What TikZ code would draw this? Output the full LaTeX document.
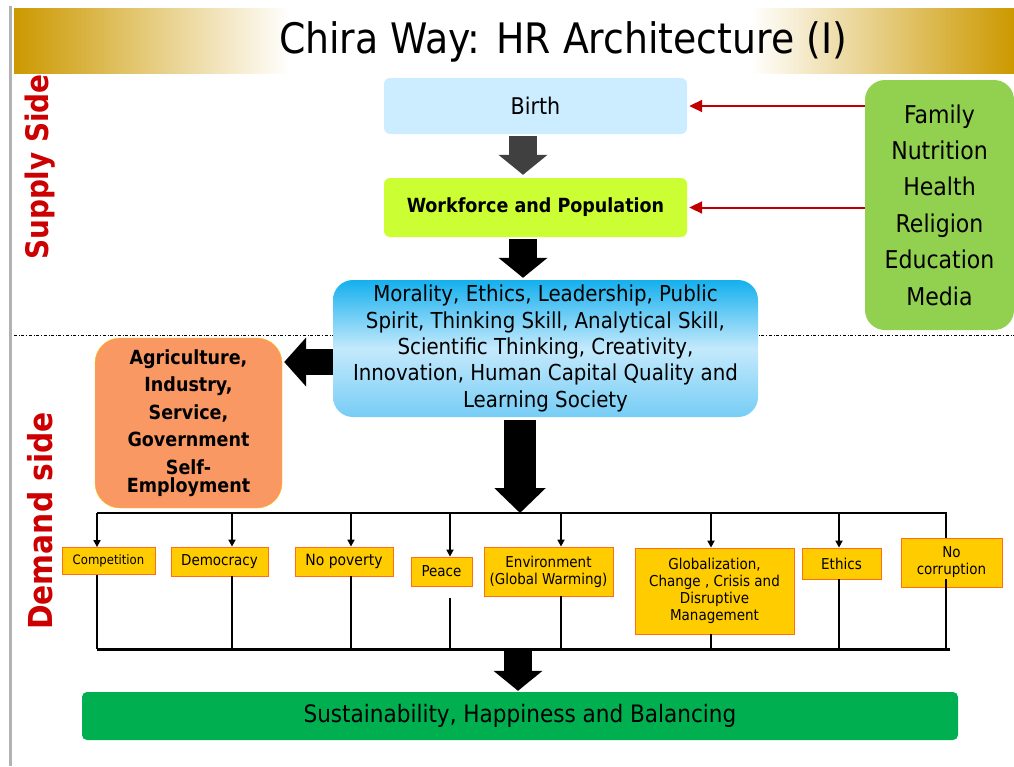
\documentclass[tikz,border=0pt]{standalone}
\usepackage{fontspec}
\setmainfont{DejaVu Sans Condensed}
\usepackage{xcolor}
\usetikzlibrary{positioning,arrows.meta}

\definecolor{titlegold}{RGB}{204,153,0}
\definecolor{sidered}{RGB}{204,0,0}
\definecolor{feedred}{RGB}{192,0,0}
\definecolor{birthblue}{RGB}{204,236,255}
\definecolor{limegreen}{RGB}{204,255,51}
\definecolor{skytop}{RGB}{20,176,238}
\definecolor{skymid}{RGB}{196,233,252}
\definecolor{skybot}{RGB}{118,205,245}
\definecolor{sectorfill}{RGB}{250,152,100}
\definecolor{sectorline}{RGB}{255,192,0}
\definecolor{familygreen}{RGB}{146,208,80}
\definecolor{itemfill}{RGB}{255,204,0}
\definecolor{itemline}{RGB}{255,110,20}
\definecolor{sustgreen}{RGB}{0,176,80}
\definecolor{greyarrow}{RGB}{64,64,64}

\newcommand{\fsz}[1]{\fontsize{#1}{1.2\dimexpr#1pt\relax}\selectfont}

\begin{document}
\begin{tikzpicture}[x=1pt, y=-1pt,
    bigarrow/.style={line width=28pt, -{Triangle[length=20pt,width=48pt]}},
    feedarrow/.style={feedred, line width=2pt, -{Triangle[length=13pt,width=12pt]}},
    tap/.style={line width=1.6pt, -{Triangle[length=7pt,width=7pt]}},
    drop/.style={line width=1.8pt},
    item/.style={draw=itemline, fill=itemfill, line width=0.8pt, inner sep=0pt, align=center}]
    \useasboundingbox (0,0) rectangle (1014,766);

    % title band
    \fill[left color=titlegold, right color=white] (14,8) rectangle (290,73);
    \fill[left color=white, right color=titlegold] (750,8) rectangle (1014,73);
    \draw[gray!60, line width=3pt] (10,6) -- (10,766);
    \node[font=\fsz{42}] (title) at (563,42) {Chira Way: HR Architecture (I)};

    % side labels
    \node[rotate=90, text=sidered, font=\bfseries\fsz{31}] (supply) at (40,167) {Supply Side};
    \node[rotate=90, text=sidered, font=\bfseries\fsz{33}] (demand) at (40,521) {Demand side};
    \draw[dash dot, line width=0.8pt] (14,335) -- (1014,335);

    % supply chain
    \node[fill=birthblue, rounded corners=6pt, minimum width=303pt, minimum height=56pt, font=\fsz{23}] (birth) at (535.5,106) {Birth};
    \node[fill=limegreen, rounded corners=6pt, minimum width=303pt, minimum height=59pt, font=\bfseries\fsz{19.5}] (workforce) at (535.5,207.5) {Workforce and Population};
    \node[top color=skytop, bottom color=skybot, middle color=skymid, rounded corners=20pt, minimum width=425pt, minimum height=137pt, align=center, inner sep=0pt, font=\fsz{22}] (morality) at (545.5,348.5) {Morality, Ethics, Leadership, Public\\[0pt]
        Spirit, Thinking Skill, Analytical Skill,\\[0pt]
        Scientific Thinking, Creativity,\\[0pt]
        Innovation, Human Capital Quality and\\[0pt]
        Learning Society};
    \node[fill=familygreen, rounded corners=20pt, minimum width=149pt, minimum height=250pt, align=center, font=\fsz{24.5}] (family) at (939.5,205) {Family\\[7pt]Nutrition\\[7pt]Health\\[7pt]Religion\\[7pt]Education\\[7pt]Media};
    \node[draw=sectorline, fill=sectorfill, rounded corners=25pt, minimum width=187pt, minimum height=170pt, align=center, inner sep=0pt, font=\bfseries\fsz{19.5}] (sectors) at (188.5,423) {Agriculture,\\[4pt]Industry,\\[4pt]Service,\\[4pt]Government\\[4pt]Self-\\[-5.5pt]Employment};

    % arrows of the supply chain
    \coordinate (axis) at (523,0);
    \draw[bigarrow, greyarrow] ([yshift=-2pt]birth.south -| axis) -- ([yshift=3pt]workforce.north -| axis);
    \draw[bigarrow, black] ([yshift=-2pt]workforce.south -| axis) -- ([yshift=2pt]morality.north -| axis);
    \draw[bigarrow, black, line width=26pt, -{Triangle[length=22pt,width=48pt]}] ([yshift=-13.5pt]morality.west) -- ([xshift=2pt,yshift=-13.5pt]sectors.east |- morality.west);
    \draw[feedarrow] (family.west |- birth.east) -- ([xshift=2pt]birth.east);
    \draw[feedarrow] (family.west |- workforce.east) -- ([xshift=2pt]workforce.east);

    % demand side items
    \node[item, minimum width=93pt, minimum height=27pt, font=\fsz{13}] (compet) at (108.5,561) {Competition};
    \node[item, minimum width=97pt, minimum height=29pt, font=\fsz{15}] (democ) at (219.5,561.5) {Democracy};
    \node[item, minimum width=98pt, minimum height=29pt, font=\fsz{15.5}] (nopov) at (344,561.5) {No poverty};
    \node[item, minimum width=61pt, minimum height=29pt, font=\fsz{15}] (peace) at (441.5,571.5) {Peace};
    \node[item, minimum width=129pt, minimum height=49pt, font=\fsz{15}] (envir) at (548.5,571.5) {Environment\\[-1pt](Global Warming)};
    \node[item, minimum width=159pt, minimum height=86pt, font=\fsz{15}] (glob) at (714.5,591) {Globalization,\\[-1pt]Change , Crisis and\\[-1pt]Disruptive\\[-1pt]Management};
    \node[item, minimum width=79pt, minimum height=31pt, font=\fsz{15}] (ethics) at (841.5,563.5) {Ethics};
    \node[item, minimum width=101pt, minimum height=49pt, font=\fsz{15}] (nocorr) at (951.5,562.5) {No\\[-1pt]corruption};

    \node[fill=sustgreen, rounded corners=5pt, minimum width=876pt, minimum height=48pt, font=\fsz{24}] (sustain) at (520,716) {Sustainability, Happiness and Balancing};

    % buses
    \coordinate (bustop) at (0,513);
    \coordinate (busbot) at (0,649);
    \coordinate (downaxis) at (520,0);
    \draw[bigarrow, black, line width=32pt, -{Triangle[length=25pt,width=50pt]}] ([yshift=-3pt]morality.south -| downaxis) -- (downaxis |- bustop);
    \foreach \n/\x in {compet/97, democ/232, nopov/351, peace/450, envir/561, glob/711, ethics/839, nocorr/946}
        \coordinate (top\n) at (\x,513);
    \draw[drop] (topcompet) -- (topnocorr) -- (topnocorr |- nocorr.north);
    \foreach \n in {compet, democ, nopov, peace, envir, glob, ethics}
        \draw[tap] (top\n) -- (top\n |- \n.north);
    \foreach \n in {compet, democ, nopov, envir, glob, ethics}
        \draw[drop] (top\n |- \n.south) -- (top\n |- busbot);
    \draw[drop] ([yshift=-12pt]toppeace |- peace.south) -- (toppeace |- busbot);
    \draw[drop] ([yshift=8pt]topnocorr |- nocorr.south) -- (topnocorr |- busbot);
    \draw[line width=3pt] (topcompet |- busbot) -- ([xshift=4pt]topnocorr |- busbot);
    \draw[bigarrow, black] ([xshift=-2pt,yshift=-2pt]sustain.north |- busbot) -- ([xshift=-2pt,yshift=1pt]sustain.north);
\end{tikzpicture}
\end{document}
